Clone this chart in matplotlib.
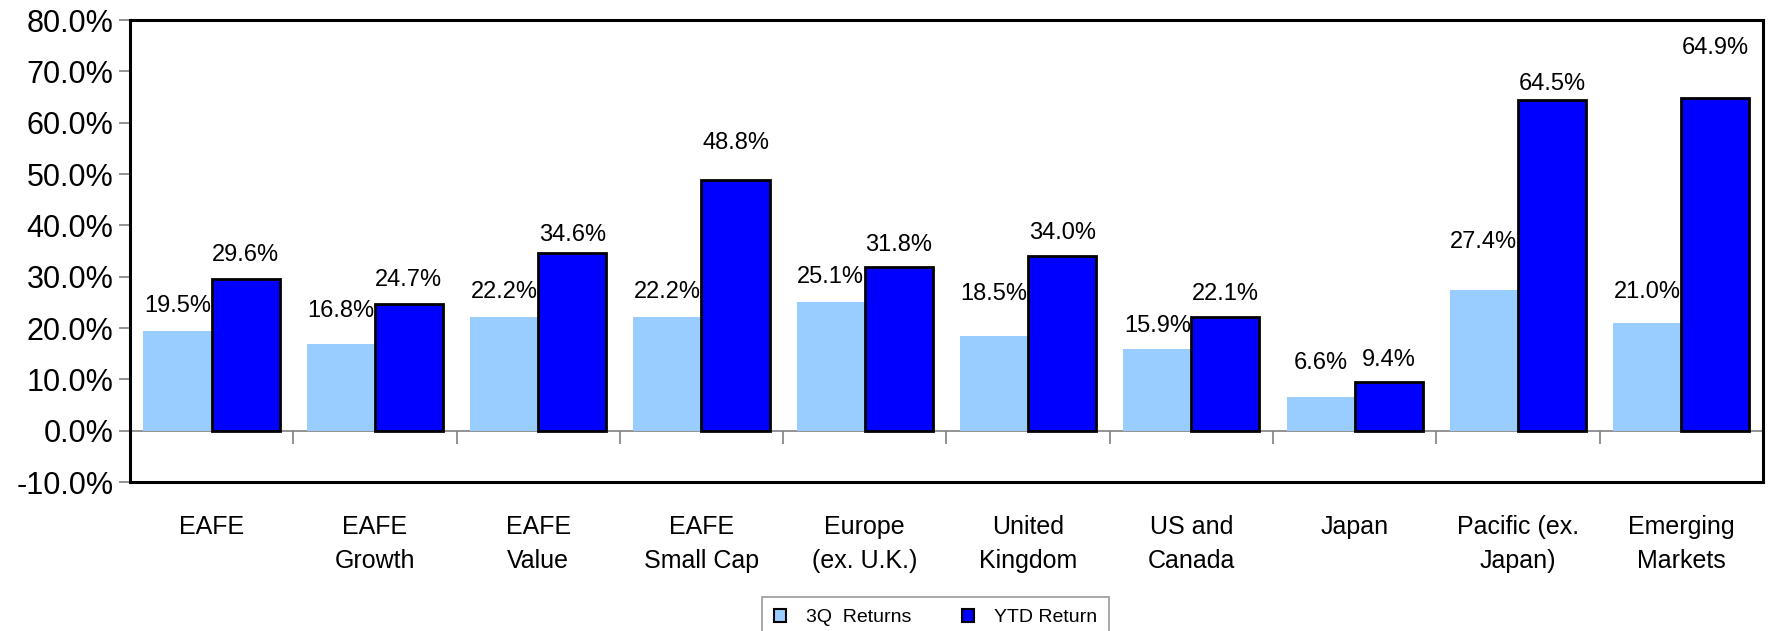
import numpy as np
import matplotlib
matplotlib.use("Agg")
import matplotlib.pyplot as plt
from matplotlib.ticker import FuncFormatter
from matplotlib.patches import Patch

plt.rcParams['font.family'] = ['Liberation Sans', 'DejaVu Sans']

# data
categories = ["EAFE", "EAFE\nGrowth", "EAFE\nValue", "EAFE\nSmall Cap", "Europe\n(ex. U.K.)",
              "United\nKingdom", "US and\nCanada", "Japan", "Pacific (ex.\nJapan)", "Emerging\nMarkets"]
q3_returns = [19.5, 16.8, 22.2, 22.2, 25.1, 18.5, 15.9, 6.6, 27.4, 21.0]
ytd_returns = [29.6, 24.7, 34.6, 48.8, 31.8, 34.0, 22.1, 9.4, 64.5, 64.9]

# how far above each bar its label sits (the original placement is uneven)
lift_q3 = [4.8, 6.6, 4.8, 4.8, 4.8, 8.1, 4.4, 6.6, 9.4, 6.1]
lift_ytd = [4.6, 4.6, 3.5, 7.2, 4.4, 4.6, 4.6, 4.4, 3.1, 9.6]

light = "#99CCFF"
dark = "#0000FF"
grey = "#808080"

fig = plt.figure(figsize=(17.75, 6.31), dpi=100)
ax = fig.add_axes([0.0732, 0.2361, 0.9200, 0.7322])

x = np.arange(len(categories))
w = 0.417
ax.bar(x - w / 2, q3_returns, w, color=light, edgecolor="none", zorder=2)
ax.bar(x + w / 2, ytd_returns, w, color=dark, edgecolor="black", linewidth=2.0, zorder=3)

for i in range(len(x)):
    ax.text(x[i] - w / 2, q3_returns[i] + lift_q3[i], f"{q3_returns[i]:.1f}%",
            ha="center", va="center", fontsize=17)
    ax.text(x[i] + w / 2, ytd_returns[i] + lift_ytd[i], f"{ytd_returns[i]:.1f}%",
            ha="center", va="center", fontsize=17)

ax.set_xlim(-0.5, len(categories) - 0.5)
ax.set_ylim(-10, 80)
ax.set_yticks(np.arange(-10, 81, 10))
ax.yaxis.set_major_formatter(FuncFormatter(lambda v, p: f"{v:.1f}%"))
ax.tick_params(axis="y", labelsize=22, length=8, width=1.2, color=grey, pad=4)

ax.set_xticks(x)
ax.set_xticklabels(categories, fontsize=18, linespacing=1.5)
ax.tick_params(axis="x", length=0, pad=24)

for s in ax.spines.values():
    s.set_linewidth(2.2)
    s.set_color("black")

# category axis sits on the zero line, ticks between the groups
ax.axhline(0, color=grey, linewidth=1.2, zorder=1)
sec = ax.secondary_xaxis(1 / 9)
sec.set_xticks(x[:-1] + 0.5)
sec.set_xticklabels([])
sec.tick_params(axis="x", direction="out", length=9, width=1.2, color=grey)
sec.spines["bottom"].set_visible(False)

handles = [Patch(facecolor=light, edgecolor="black", linewidth=1.5, label="3Q  Returns"),
           Patch(facecolor=dark, edgecolor="black", linewidth=1.5, label="YTD Return")]
leg = fig.legend(handles=handles, loc="upper center", bbox_to_anchor=(0.527, 0.054),
                 borderaxespad=0, ncol=2, fontsize=14, frameon=True, fancybox=False,
                 handlelength=0.65, handleheight=0.65, columnspacing=2.6, handletextpad=1.0,
                 borderpad=0.6)
leg.get_frame().set_edgecolor(grey)
leg.get_frame().set_linewidth(1.2)

fig.text(0.99, -0.006, "Source: MSCI", ha="right", va="top", fontsize=14, color=grey)

fig.savefig("out.png", dpi=100)
